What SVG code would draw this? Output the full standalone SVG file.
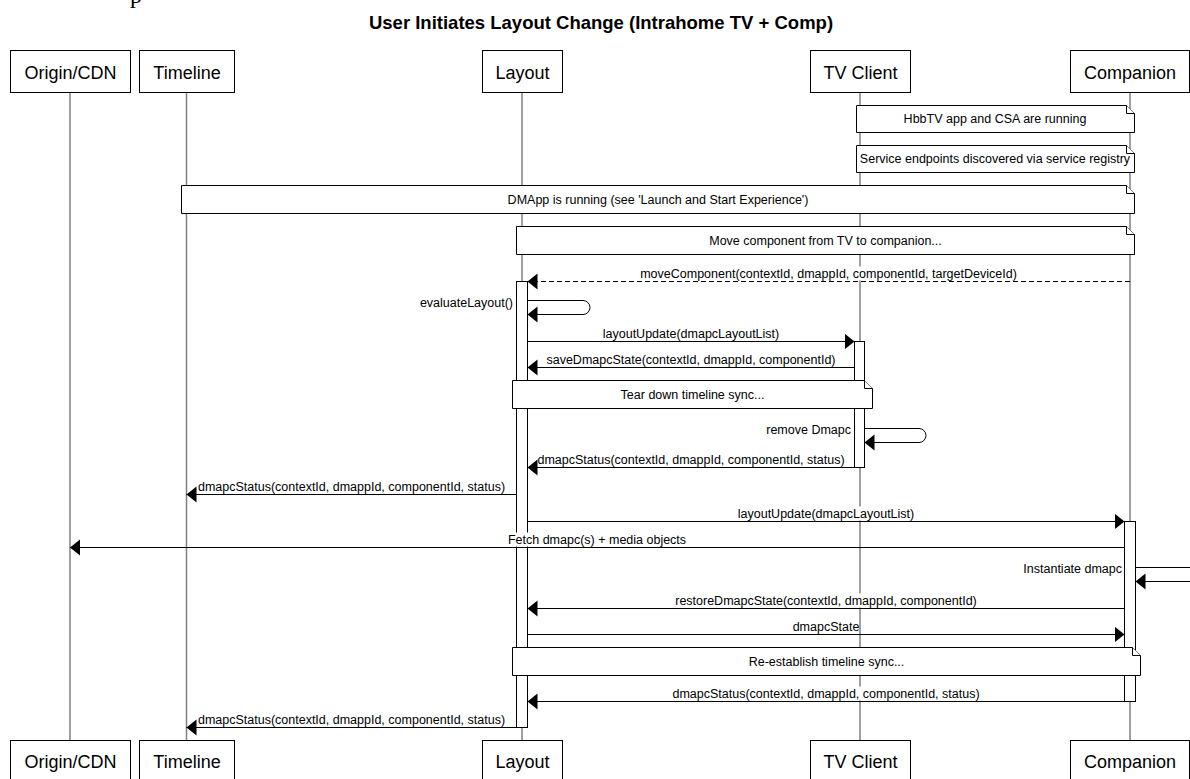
<svg xmlns="http://www.w3.org/2000/svg" width="1190" height="779" viewBox="0 0 1190 779">
<defs>
<style>
text{font-family:"Liberation Sans",Arial,sans-serif;fill:#000}
.title{font-size:18.5px;font-weight:bold;text-anchor:middle}
.frag{font-family:"Liberation Serif","Times New Roman",serif;font-size:24px}
.actor rect{fill:#fff;stroke:#000;stroke-width:1}
.actor text{font-size:18px;text-anchor:middle}
.life{stroke:#808080;stroke-width:1.5;fill:none}
.act{fill:#fff;stroke:#000;stroke-width:1}
.note path{fill:#fff;stroke:#000;stroke-width:1}
.note text{font-size:12.5px;text-anchor:middle}
.msg{stroke:#000;stroke-width:1;fill:none;marker-end:url(#ah)}
.dash{stroke-dasharray:5,3}
.lbl{font-size:12.5px;text-anchor:middle}
.lblr{font-size:12.5px;text-anchor:end}
.bg{fill:#fff;stroke:none}
</style>
<marker id="ah" markerUnits="userSpaceOnUse" markerWidth="11" markerHeight="17" refX="10" refY="8" orient="auto">
<path d="M0,0 L10,8 L0,16 Z" fill="#000"/>
</marker>
</defs>
<rect width="1190" height="779" fill="#fff"/>
<text class="frag" x="130" y="3">p</text>
<text class="title" x="601" y="29">User Initiates Layout Change (Intrahome TV + Comp)</text>

<g id="lifelines">
<line class="life" x1="70" y1="92.5" x2="70" y2="740.5"/>
<line class="life" x1="186.5" y1="92.5" x2="186.5" y2="740.5"/>
<line class="life" x1="522" y1="92.5" x2="522" y2="740.5"/>
<line class="life" x1="860" y1="92.5" x2="860" y2="740.5"/>
<line class="life" x1="1130" y1="92.5" x2="1130" y2="740.5"/>
</g>

<g id="actor-origin" class="actor">
<rect x="10.5" y="50.5" width="120" height="42"/><text x="70.5" y="78.5">Origin/CDN</text>
<rect x="10.5" y="740.5" width="120" height="42"/><text x="70.5" y="767.5">Origin/CDN</text>
</g>
<g id="actor-timeline" class="actor">
<rect x="139.5" y="50.5" width="95" height="42"/><text x="187" y="78.5">Timeline</text>
<rect x="139.5" y="740.5" width="95" height="42"/><text x="187" y="767.5">Timeline</text>
</g>
<g id="actor-layout" class="actor">
<rect x="482.5" y="50.5" width="80" height="42"/><text x="522.5" y="78.5">Layout</text>
<rect x="482.5" y="740.5" width="80" height="42"/><text x="522.5" y="767.5">Layout</text>
</g>
<g id="actor-tvclient" class="actor">
<rect x="810.5" y="50.5" width="100" height="42"/><text x="860.5" y="78.5">TV Client</text>
<rect x="810.5" y="740.5" width="100" height="42"/><text x="860.5" y="767.5">TV Client</text>
</g>
<g id="actor-companion" class="actor">
<rect x="1070.5" y="50.5" width="119" height="42"/><text x="1130" y="78.5">Companion</text>
<rect x="1070.5" y="740.5" width="119" height="42"/><text x="1130" y="767.5">Companion</text>
</g>

<g id="activations">
<rect class="act" x="516.5" y="281.5" width="11" height="446"/>
<rect class="act" x="854.5" y="341.5" width="10" height="126"/>
<rect class="act" x="1124.5" y="521.5" width="11" height="180"/>
</g>

<g id="note-hbbtv" class="note">
<path d="M856.5,105.5 H1126.5 L1134.5,113.5 V132.5 H856.5 Z"/><path d="M1126.5,105.5 V113.5 H1134.5"/>
<text x="995" y="123">HbbTV app and CSA are running</text>
</g>
<g id="note-service" class="note">
<path d="M856.5,145.5 H1126.5 L1134.5,153.5 V172.5 H856.5 Z"/><path d="M1126.5,145.5 V153.5 H1134.5"/>
<text x="995" y="163">Service endpoints discovered via service registry</text>
</g>
<g id="note-dmapp" class="note">
<path d="M181.5,185.5 H1126.5 L1134.5,193.5 V213.5 H181.5 Z"/><path d="M1126.5,185.5 V193.5 H1134.5"/>
<text x="658" y="204">DMApp is running (see 'Launch and Start Experience')</text>
</g>
<g id="note-move" class="note">
<path d="M516.5,226.5 H1126.5 L1134.5,234.5 V254.5 H516.5 Z"/><path d="M1126.5,226.5 V234.5 H1134.5"/>
<text x="825.5" y="245">Move component from TV to companion...</text>
</g>
<g id="note-teardown" class="note">
<path d="M512.5,380.5 H864.5 L872.5,388.5 V408.5 H512.5 Z"/><path d="M864.5,380.5 V388.5 H872.5"/>
<text x="692.5" y="399">Tear down timeline sync...</text>
</g>
<g id="note-reestablish" class="note">
<path d="M512.5,647.5 H1132.5 L1140.5,655.5 V675.5 H512.5 Z"/><path d="M1132.5,647.5 V655.5 H1140.5"/>
<text x="826.5" y="666">Re-establish timeline sync...</text>
</g>

<g id="connectors">
<line class="msg dash" x1="1130" y1="281.5" x2="527.5" y2="281.5"/>
<rect class="bg" x="640" y="266.5" width="377" height="14"/>
<text class="lbl" x="828.5" y="278">moveComponent(contextId, dmappId, componentId, targetDeviceId)</text>

<path class="msg" d="M527.5,300.5 H583 A7,7 0 0 1 583,314.5 H527.5"/>
<text class="lblr" x="513" y="306.5">evaluateLayout()</text>

<line class="msg" x1="527.5" y1="341.5" x2="854.5" y2="341.5"/>
<rect class="bg" x="603" y="326.5" width="177" height="14"/>
<text class="lbl" x="691" y="338">layoutUpdate(dmapcLayoutList)</text>

<line class="msg" x1="854.5" y1="367.5" x2="527.5" y2="367.5"/>
<rect class="bg" x="547" y="352.5" width="289" height="14"/>
<text class="lbl" x="691" y="364">saveDmapcState(contextId, dmappId, componentId)</text>

<path class="msg" d="M864.5,428.5 H919 A7,7 0 0 1 919,442.5 H864.5"/>
<text class="lblr" x="851" y="433.5">remove Dmapc</text>

<line class="msg" x1="854.5" y1="467.5" x2="527.5" y2="467.5"/>
<rect class="bg" x="538" y="452.5" width="307" height="14"/>
<text class="lbl" x="691" y="464">dmapcStatus(contextId, dmappId, componentId, status)</text>

<line class="msg" x1="516.5" y1="494.5" x2="186.5" y2="494.5"/>
<rect class="bg" x="198" y="479.5" width="307" height="14"/>
<text class="lbl" x="351.5" y="491">dmapcStatus(contextId, dmappId, componentId, status)</text>

<line class="msg" x1="527.5" y1="521.5" x2="1124.5" y2="521.5"/>
<rect class="bg" x="738" y="506.5" width="177" height="14"/>
<text class="lbl" x="826" y="518">layoutUpdate(dmapcLayoutList)</text>

<line class="msg" x1="1124.5" y1="547.5" x2="70" y2="547.5"/>
<rect class="bg" x="508" y="532.5" width="178" height="14"/>
<text class="lbl" x="597" y="544">Fetch dmapc(s) + media objects</text>

<path class="msg" d="M1135.5,567.5 H1192 A7,7 0 0 1 1192,581.5 H1135.5"/>
<text class="lblr" x="1122" y="572.5">Instantiate dmapc</text>

<line class="msg" x1="1124.5" y1="608.5" x2="527.5" y2="608.5"/>
<rect class="bg" x="675" y="593.5" width="302" height="14"/>
<text class="lbl" x="826" y="605">restoreDmapcState(contextId, dmappId, componentId)</text>

<line class="msg" x1="527.5" y1="634.5" x2="1124.5" y2="634.5"/>
<rect class="bg" x="792" y="619.5" width="67" height="14"/>
<text class="lbl" x="826" y="631">dmapcState</text>

<line class="msg" x1="1124.5" y1="701.5" x2="527.5" y2="701.5"/>
<rect class="bg" x="672" y="686.5" width="307" height="14"/>
<text class="lbl" x="826" y="698">dmapcStatus(contextId, dmappId, componentId, status)</text>

<line class="msg" x1="516.5" y1="727.5" x2="186.5" y2="727.5"/>
<rect class="bg" x="198" y="712.5" width="307" height="14"/>
<text class="lbl" x="351.5" y="724">dmapcStatus(contextId, dmappId, componentId, status)</text>
</g>
</svg>
